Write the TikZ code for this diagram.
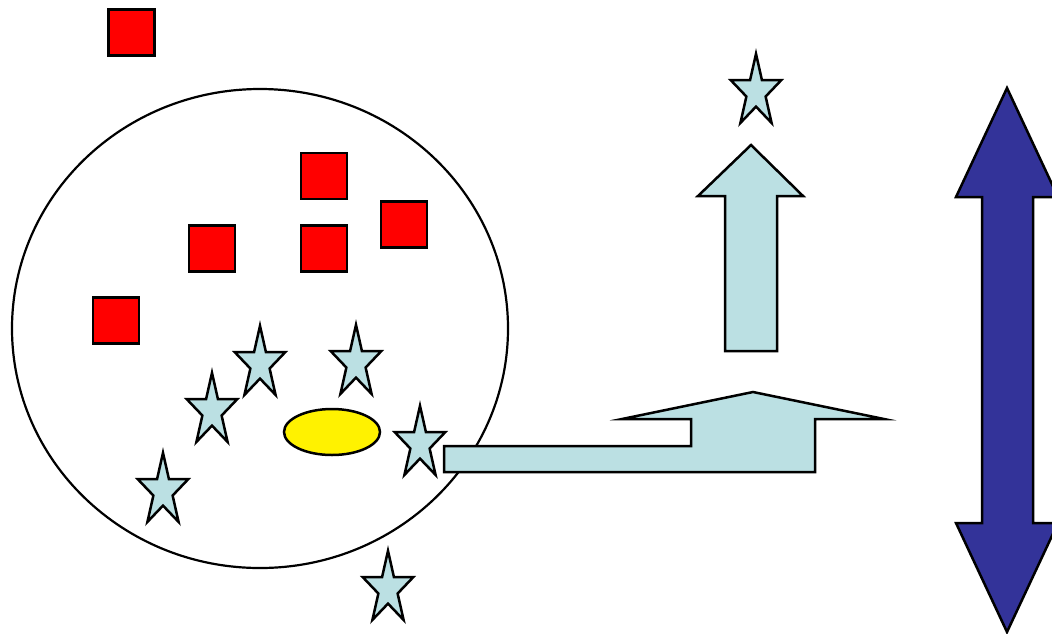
\documentclass[tikz,border=0pt]{standalone}
\usetikzlibrary{shapes.geometric}
\definecolor{lblue}{HTML}{BBE0E3}
\definecolor{dblue}{HTML}{333399}
\begin{document}
\begin{tikzpicture}[x=1pt,y=-1pt,line join=miter,
  outl/.style={draw=black,line width=2.5pt},
  sq/.style={outl,fill=red,minimum size=46pt,inner sep=0pt,rectangle},
  starfill/.style={outl,fill=lblue},
  starshape/.pic={\draw[starfill] (90:1) -- (126:0.382) -- (162:1) -- (198:0.382) -- (234:1) -- (270:0.382) -- (306:1) -- (342:0.382) -- (18:1) -- (54:0.382) -- cycle;}]
\useasboundingbox (0,0) rectangle (1052,633);
\clip (0,0) rectangle (1052,633);
% big circle
\node[draw=black,line width=2.2pt,ellipse,minimum width=496pt,minimum height=479pt,inner sep=0pt] (circ) at (260,328.5) {};
% red squares
\node[sq] (r0) at (131.5,32.5) {};
\node[sq] (r1) at (324,176) {};
\node[sq] (r2) at (404,224.5) {};
\node[sq] (r3) at (212,248.5) {};
\node[sq] (r4) at (324,248.5) {};
\node[sq] (r5) at (116,320.5) {};
% yellow ellipse
\node[outl,fill=yellow,ellipse,minimum width=96pt,minimum height=46pt,inner sep=0pt] (yel) at (332,432) {};
% stars
\pic[xscale=26.5,yscale=-38.2] (s1) at (260,364) {starshape};
\pic[xscale=26.5,yscale=-38.2] (s2) at (356,363) {starshape};
\pic[xscale=26.5,yscale=-38.2] (s3) at (212,411) {starshape};
\pic[xscale=26.5,yscale=-38.2] (s4) at (163,491) {starshape};
\pic[xscale=26.5,yscale=-38.2] (s5) at (420,444) {starshape};
\pic[xscale=26.5,yscale=-38.2] (s6) at (388,589) {starshape};
\pic[xscale=26.5,yscale=-38.2] (s7) at (756,92) {starshape};
% bent arrow
\draw[outl,fill=lblue] (444,446) -- (691,446) -- (691,419) -- (622,419) -- (753,392) -- (884,419) -- (815,419) -- (815,472) -- (444,472) -- cycle;
% up arrow
\draw[outl,fill=lblue] (751,145) -- (803,196) -- (777,196) -- (777,351) -- (725,351) -- (725,196) -- (698,196) -- cycle;
% double arrow
\draw[outl,fill=dblue] (1007,88) -- (1058,197) -- (1033,197) -- (1033,523) -- (1058,523) -- (1007,632) -- (956,523) -- (982,523) -- (982,197) -- (956,197) -- cycle;
\end{tikzpicture}
\end{document}
